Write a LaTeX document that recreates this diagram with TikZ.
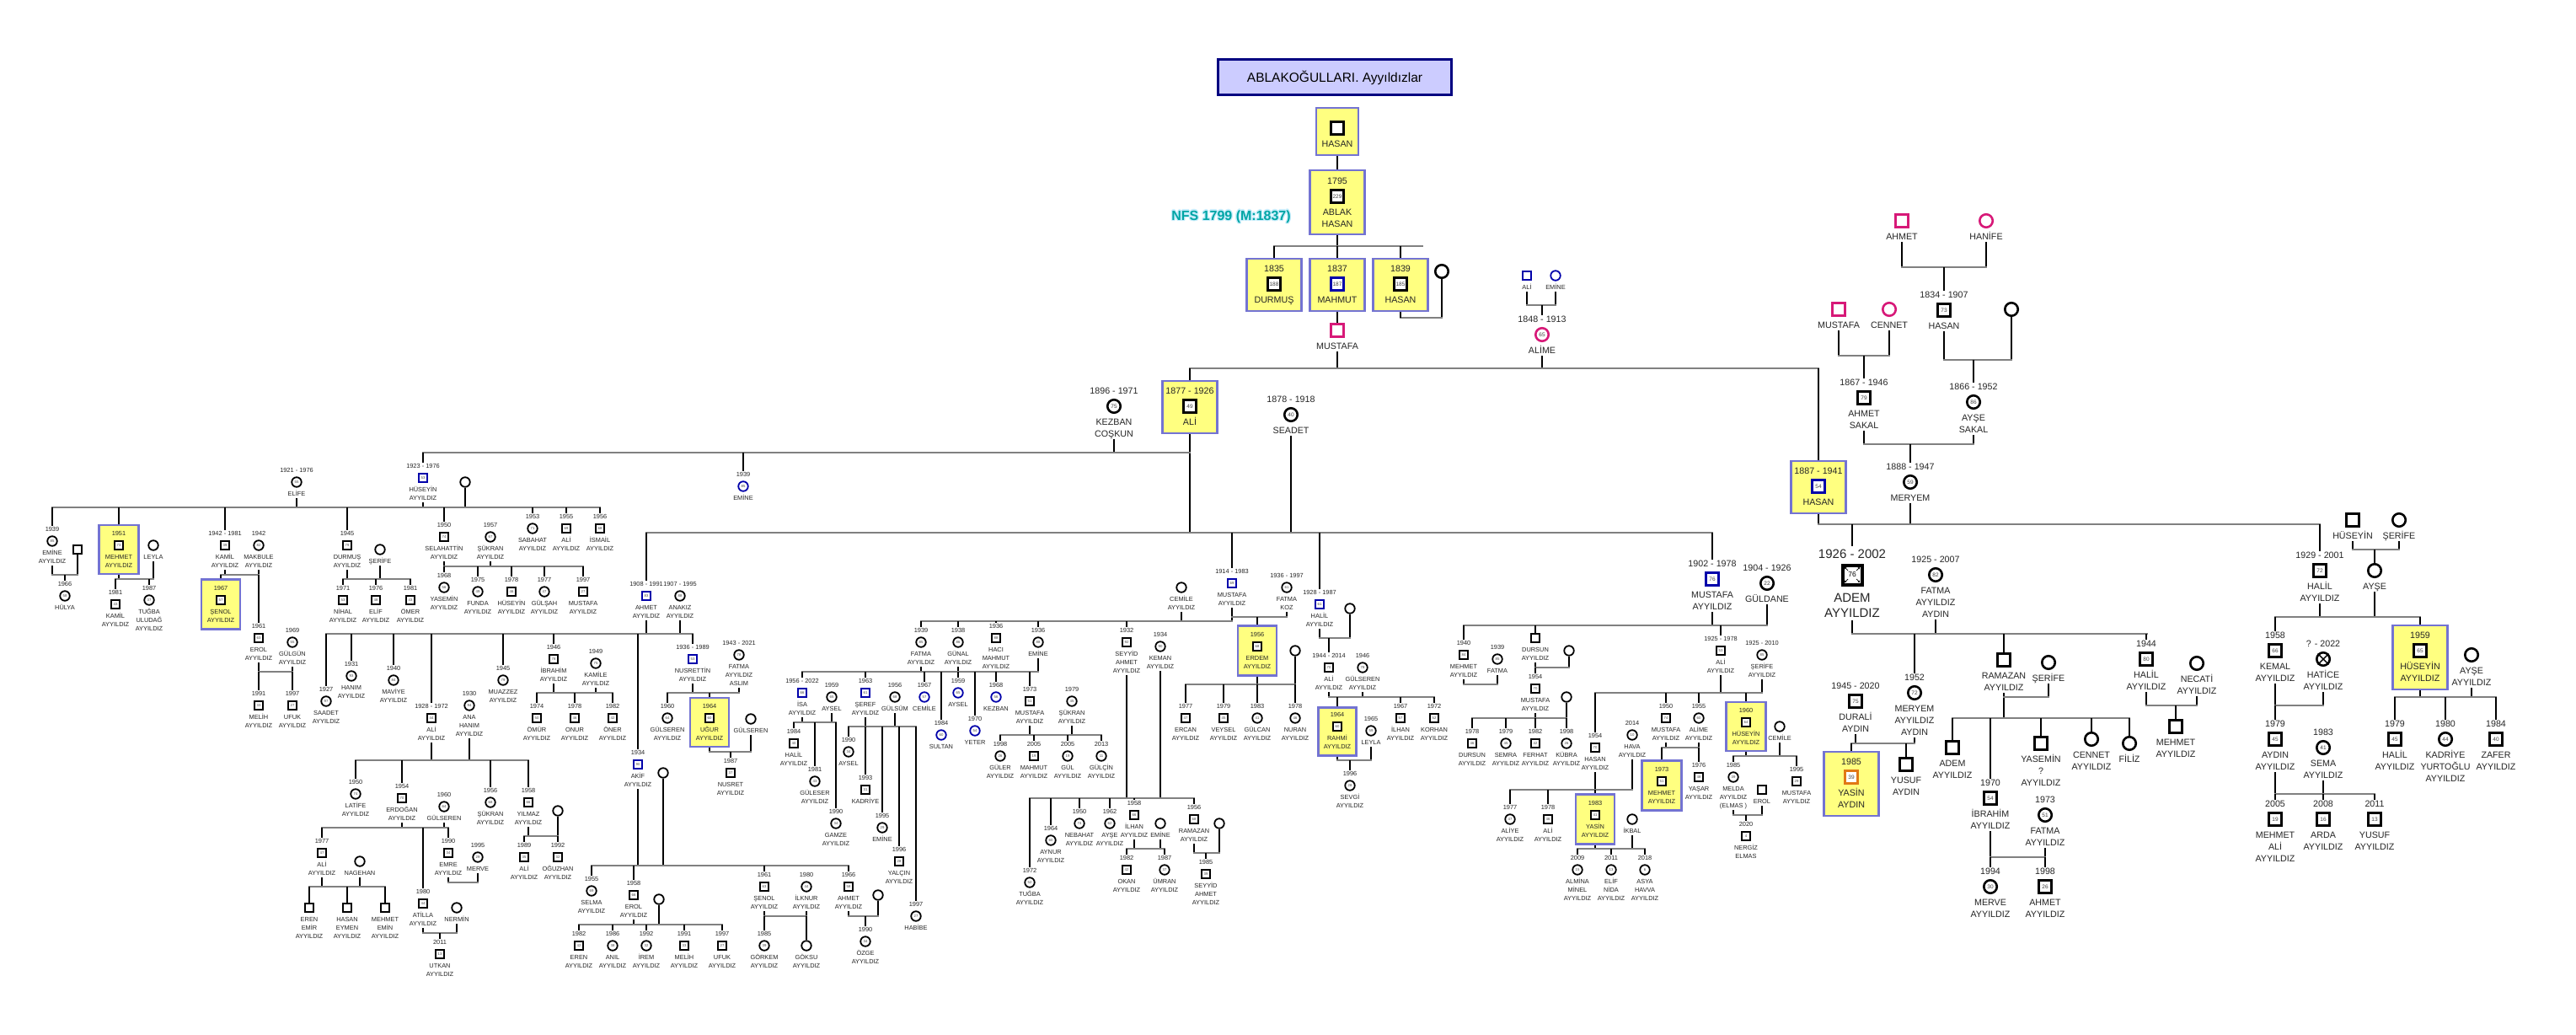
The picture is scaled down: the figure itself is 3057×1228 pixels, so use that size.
\documentclass[tikz,border=0pt]{standalone}
\usepackage{fontspec}
\setmainfont{Liberation Sans}
\usetikzlibrary{arrows.meta}
\definecolor{gbar}{RGB}{128,128,128}
\definecolor{nblue}{RGB}{0,0,170}
\definecolor{pinkc}{RGB}{215,25,120}
\definecolor{boxfill}{RGB}{255,255,128}
\definecolor{boxdraw}{RGB}{115,115,210}
\definecolor{titlefill}{RGB}{204,204,255}
\definecolor{titledraw}{RGB}{0,0,128}
\definecolor{nfsc}{RGB}{0,165,165}
\definecolor{orangec}{RGB}{225,120,20}
\tikzset{
 vl/.style={line width=2.6pt, black},
 hl/.style={line width=2.6pt, gbar, line cap=rect},
 ts/.style={anchor=base, inner sep=0pt, font=\fontsize{7.4}{8}\selectfont, text=black!85},
 tb/.style={anchor=base, inner sep=0pt, font=\fontsize{10.7}{12}\selectfont, text=black!85},
 symS/.style={draw=black, line width=1.8pt, fill=white, inner sep=0pt, font=\fontsize{4.3}{4.3}\selectfont, text=black!75},
 ms/.style={symS, rectangle, minimum size=10.5pt},
 fs/.style={symS, circle, minimum size=11.5pt},
 msb/.style={ms, draw=nblue},
 fsb/.style={fs, draw=nblue},
 symB/.style={draw=black, line width=2.6pt, fill=white, inner sep=0pt, font=\fontsize{6.5}{6.5}\selectfont, text=black!75},
 mb/.style={symB, rectangle, minimum size=14.5pt},
 fb/.style={symB, circle, minimum size=15.5pt},
 mbb/.style={mb, draw=nblue},
 mbp/.style={mb, draw=pinkc},
 fbp/.style={fb, draw=pinkc},
 mbo/.style={mb, draw=orangec},
 ybox/.style={draw=boxdraw, fill=boxfill, line width=2.2pt, inner sep=0pt},
 nfsglow/.style={font=\fontsize{16}{17}\selectfont\bfseries, text=cyan!22, inner sep=0pt},
 nfsmain/.style={font=\fontsize{16}{17}\selectfont\bfseries, text=nfsc, inner sep=0pt},
 bigt/.style={anchor=base, inner sep=0pt, font=\fontsize{15}{16}\selectfont, text=black!85},
}
% person macros: id, x, y, style, age, date, names
\newcommand\prS[7]{%
  \node[#4] (#1) at (#2,#3) {#5};
  \node[ts] at (#2,#3-11.35) {#6};
  \foreach \q [count=\k] in {#7} {\node[ts] at (#2,#3+6.65+10*\k) {\q};}%
}
\newcommand\prB[7]{%
  \node[#4] (#1) at (#2,#3) {#5};
  \node[tb] at (#2,#3-14.2) {#6};
  \foreach \q [count=\k] in {#7} {\node[tb] at (#2,#3+8.8+14*\k) {\q};}%
}
\newcommand\bx[5]{\node[ybox, minimum width=#4pt, minimum height=#5pt] (#1) at (#2,#3) {};}
\newcommand\cuS[2]{\draw[vl] (#1 |- 0,#2) -- ([yshift=18pt]#1.center);}
\newcommand\cuB[2]{\draw[vl] (#1 |- 0,#2) -- ([yshift=23pt]#1.center);}
\newcommand\cuY[2]{\draw[vl] (#1 |- 0,#2) -- (#1.north);}
\newcommand\cdS[3]{\draw[vl] (#1.center) ++(0,{9+10*#2}) -- (#1 |- 0,#3);}
\newcommand\cdB[3]{\draw[vl] (#1.center) ++(0,{11+14*#2}) -- (#1 |- 0,#3);}
\newcommand\cdY[2]{\draw[vl] (#1.south) -- (#1 |- 0,#2);}
\newcommand\HL[3]{\draw[hl] (#2,#1) -- (#3,#1);}
\begin{document}
\begin{tikzpicture}[x=1pt,y=-1pt]
\fill[white] (0,0) rectangle (3057,1228);
\useasboundingbox (0,0) rectangle (3057,1228);
% ---------- title ----------
\node[draw=titledraw, fill=titlefill, line width=3pt, minimum width=277pt, minimum height=42pt, font=\fontsize{15.5}{16}\selectfont] (title) at (1584,92) {ABLAKOĞULLARI. Ayyıldızlar};
\foreach \dx/\dy in {-1.3/0,1.3/0,0/-1.3,0/1.3,-1/-1,1/1,-1/1,1/-1} {\node[nfsglow] at (1461+\dx,257+\dy) {NFS 1799 (M:1837)};}
\node[nfsmain] (nfs) at (1461,257) {NFS 1799 (M:1837)};
% ---------- boxes ----------
\bx{bxHasan0}{1587}{156}{50}{56}
\bx{bxAblak}{1587}{240}{65}{76}
\bx{bxDurmus}{1512}{338}{65}{62}
\bx{bxMahmut}{1587}{338}{65}{62}
\bx{bxHasan1}{1662}{338}{65}{62}
\bx{bxAli0}{1412}{483}{65}{62}
\bx{bxHasanH}{2158}{578}{65}{62}
\bx{bxYasinA}{2197}{930}{65}{76}
\bx{bxHuseyin59}{2872}{780}{65}{76}
\bx{bxMehmet51}{141}{652}{47}{58}
\bx{bxSenol67}{262}{717}{46}{59}
\bx{bxUgur}{842}{857}{46}{58}
\bx{bxErdem}{1492}{772}{46}{59}
\bx{bxRahmi}{1587}{868}{45}{57}
\bx{bxYasin83}{1893}{972}{46}{59}
\bx{bxMehmet73}{1972}{932}{47}{59}
\bx{bxHuseyin60}{2072}{862}{47}{58}
% ---------- top generations ----------
\prB{hasan0}{1587}{152}{mb}{}{}{HASAN}
\prB{ablak}{1587}{233}{mb}{229}{1795}{ABLAK,HASAN}
\prB{durmus}{1512}{337}{mb}{188}{1835}{DURMUŞ}
\prB{mahmut}{1587}{337}{mbb}{187}{1837}{MAHMUT}
\prB{hasan1}{1662}{337}{mb}{185}{1839}{HASAN}
\node[fb] (wifeA) at (1711,322) {};
\prB{mustafaT}{1587}{392}{mbp}{}{}{MUSTAFA}
\prS{aliT}{1812}{327}{msb}{}{}{ALİ}
\prS{emineT}{1846}{327}{fsb}{}{}{EMİNE}
\prB{alime}{1830}{397}{fbp}{65}{1848 - 1913}{ALİME}
\prB{ali0}{1412}{482}{mb}{49}{1877 - 1926}{ALİ}
\prB{kezban}{1322}{482}{fb}{75}{1896 - 1971}{KEZBAN,COŞKUN}
\prB{seadet}{1532}{492}{fb}{40}{1878 - 1918}{SEADET}
% ---------- Hüseyin 1923 ----------
\prS{elife}{352}{572}{fs}{55}{1921 - 1976}{ELİFE}
\prS{huseyin23}{502}{567}{msb}{53}{1923 - 1976}{HÜSEYİN,AYYILDIZ}
\node[fs] (huseyinW) at (552,572) {};
\prS{emine39}{62}{642}{fs}{85}{1939}{EMİNE,AYYILDIZ}
\node[ms] (emineH) at (92,652) {};
\prS{hulya}{77}{707}{fs}{58}{1966}{HÜLYA}
\prS{mehmet51}{141}{647}{ms}{73}{1951}{MEHMET,AYYILDIZ}
\prS{leyla51}{182}{647}{fs}{}{}{LEYLA}
\prS{kamil81}{137}{717}{ms}{43}{1981}{KAMİL,AYYILDIZ}
\prS{tugbaU}{177}{712}{fs}{37}{1987}{TUĞBA,ULUDAĞ,AYYILDIZ}
\prS{kamil42}{267}{647}{ms}{39}{1942 - 1981}{KAMİL,AYYILDIZ}
\prS{makbule}{307}{647}{fs}{82}{1942}{MAKBULE,AYYILDIZ}
\prS{senol67}{262}{712}{ms}{57}{1967}{ŞENOL,AYYILDIZ}
\prS{erol61}{307}{757}{ms}{63}{1961}{EROL,AYYILDIZ}
\prS{gulgun}{347}{762}{fs}{55}{1969}{GÜLGÜN,AYYILDIZ}
\prS{melihB}{307}{837}{ms}{33}{1991}{MELİH,AYYILDIZ}
\prS{ufukB}{347}{837}{ms}{27}{1997}{UFUK,AYYILDIZ}
\prS{durmus45}{412}{647}{ms}{79}{1945}{DURMUŞ,AYYILDIZ}
\prS{serifeD}{451}{652}{fs}{}{}{ŞERİFE}
\prS{nihal}{407}{712}{ms}{53}{1971}{NİHAL,AYYILDIZ}
\prS{elif76}{446}{712}{ms}{48}{1976}{ELİF,AYYILDIZ}
\prS{omer}{487}{712}{ms}{43}{1981}{ÖMER,AYYILDIZ}
\prS{selahattin}{527}{637}{ms}{74}{1950}{SELAHATTİN,AYYILDIZ}
\prS{sukran57}{582}{637}{fs}{67}{1957}{ŞÜKRAN,AYYILDIZ}
\prS{yasemin68}{527}{697}{fs}{56}{1968}{YASEMİN,AYYILDIZ}
\prS{funda}{567}{702}{fs}{49}{1975}{FUNDA,AYYILDIZ}
\prS{huseyin78}{607}{702}{ms}{46}{1978}{HÜSEYİN,AYYILDIZ}
\prS{gulsah}{646}{702}{fs}{47}{1977}{GÜLŞAH,AYYILDIZ}
\prS{mustafa97}{692}{702}{ms}{27}{1997}{MUSTAFA,AYYILDIZ}
\prS{sabahat}{632}{627}{fs}{71}{1953}{SABAHAT,AYYILDIZ}
\prS{ali55}{672}{627}{ms}{69}{1955}{ALİ,AYYILDIZ}
\prS{ismail}{712}{627}{ms}{68}{1956}{İSMAİL,AYYILDIZ}
\prS{emine39b}{882}{577}{fsb}{85}{1939}{EMİNE}
% ---------- Ahmet 1908 ----------
\prS{ahmet08}{767}{707}{msb}{83}{1908 - 1991}{AHMET,AYYILDIZ}
\prS{anakiz}{807}{707}{fs}{88}{1907 - 1995}{ANAKIZ,AYYILDIZ}
\prS{saadet27}{387}{832}{fs}{97}{1927}{SAADET,AYYILDIZ}
\prS{hanim}{417}{802}{fs}{93}{1931}{HANIM,AYYILDIZ}
\prS{maviye}{467}{807}{fs}{84}{1940}{MAVİYE,AYYILDIZ}
\prS{ali28}{512}{852}{ms}{44}{1928 - 1972}{ALİ,AYYILDIZ}
\prS{anahanim}{557}{837}{fs}{94}{1930}{ANA,HANIM,AYYILDIZ}
\prS{muazzez}{597}{807}{fs}{79}{1945}{MUAZZEZ,AYYILDIZ}
\prS{ibrahim46}{657}{782}{ms}{78}{1946}{İBRAHİM,AYYILDIZ}
\prS{kamile}{707}{787}{fs}{75}{1949}{KAMİLE,AYYILDIZ}
\prS{omur}{637}{852}{ms}{50}{1974}{ÖMÜR,AYYILDIZ}
\prS{onur}{682}{852}{ms}{46}{1978}{ONUR,AYYILDIZ}
\prS{oner}{727}{852}{ms}{42}{1982}{ÖNER,AYYILDIZ}
\prS{latife}{422}{942}{fs}{74}{1950}{LATİFE,AYYILDIZ}
\prS{erdogan}{477}{947}{ms}{70}{1954}{ERDOĞAN,AYYILDIZ}
\prS{gulserenE}{527}{957}{fs}{64}{1960}{GÜLSEREN}
\prS{sukran56}{582}{952}{fs}{68}{1956}{ŞÜKRAN,AYYILDIZ}
\prS{yilmaz}{627}{952}{ms}{66}{1958}{YILMAZ,AYYILDIZ}
\prS{ali77}{382}{1012}{ms}{47}{1977}{ALİ,AYYILDIZ}
\prS{nagehan}{427}{1022}{fs}{}{}{NAGEHAN}
\prS{erenE}{367}{1077}{ms}{}{}{EREN,EMİR,AYYILDIZ}
\prS{hasanE}{412}{1077}{ms}{}{}{HASAN,EYMEN,AYYILDIZ}
\prS{mehmetE}{457}{1077}{ms}{}{}{MEHMET,EMİN,AYYILDIZ}
\prS{atilla}{502}{1072}{ms}{44}{1980}{ATİLLA,AYYILDIZ}
\prS{nermin}{542}{1077}{fs}{}{}{NERMİN}
\prS{utkan}{522}{1132}{ms}{13}{2011}{UTKAN,AYYILDIZ}
\prS{emre}{532}{1012}{ms}{34}{1990}{EMRE,AYYILDIZ}
\prS{merve95}{567}{1017}{fs}{29}{1995}{MERVE}
\node[fs] (yilmazW) at (662,962) {};
\prS{ali89}{622}{1017}{ms}{35}{1989}{ALİ,AYYILDIZ}
\prS{oguzhan}{662}{1017}{ms}{32}{1992}{OĞUZHAN,AYYILDIZ}
\prS{nusrettin}{822}{782}{msb}{53}{1936 - 1989}{NUSRETTİN,AYYILDIZ}
\prS{fatmaAs}{877}{777}{fs}{78}{1943 - 2021}{FATMA,AYYILDIZ,ASLIM}
\prS{gulseren60}{792}{852}{fs}{64}{1960}{GÜLSEREN,AYYILDIZ}
\prS{ugur}{842}{852}{ms}{60}{1964}{UĞUR,AYYILDIZ}
\prS{gulserenU}{891}{853}{fs}{}{}{GÜLSEREN}
\prS{nusret}{867}{917}{ms}{37}{1987}{NUSRET,AYYILDIZ}
\prS{akif}{757}{907}{msb}{90}{1934}{AKİF,AYYILDIZ}
\node[fs] (akifW) at (787,917) {};
\prS{selma}{702}{1057}{fs}{69}{1955}{SELMA,AYYILDIZ}
\prS{erol58}{752}{1062}{ms}{66}{1958}{EROL,AYYILDIZ}
\node[fs] (erolW) at (782,1067) {};
\prS{eren82}{687}{1122}{ms}{42}{1982}{EREN,AYYILDIZ}
\prS{anil}{727}{1122}{fs}{38}{1986}{ANIL,AYYILDIZ}
\prS{irem}{767}{1122}{fs}{32}{1992}{İREM,AYYILDIZ}
\prS{melih91}{812}{1122}{ms}{33}{1991}{MELİH,AYYILDIZ}
\prS{ufuk97}{857}{1122}{ms}{27}{1997}{UFUK,AYYILDIZ}
\prS{senol61}{907}{1052}{ms}{63}{1961}{ŞENOL,AYYILDIZ}
\prS{ilknur}{957}{1052}{fs}{44}{1980}{İLKNUR,AYYILDIZ}
\prS{gorkem}{907}{1122}{fs}{39}{1985}{GÖRKEM,AYYILDIZ}
\prS{goksu}{957}{1122}{fs}{}{}{GÖKSU,AYYILDIZ}
\prS{ahmet66}{1007}{1052}{ms}{58}{1966}{AHMET,AYYILDIZ}
\node[fs] (ahmetW) at (1042,1062) {};
\prS{ozge}{1027}{1117}{fs}{34}{1990}{ÖZGE,AYYILDIZ}
% ---------- Mustafa 1914 ----------
\prS{mustafa14}{1462}{692}{msb}{69}{1914 - 1983}{MUSTAFA,AYYILDIZ}
\prS{cemileA}{1402}{697}{fs}{}{}{CEMİLE,AYYILDIZ}
\prS{fatmaK}{1527}{697}{fs}{61}{1936 - 1997}{FATMA,KOZ}
\prS{erdem}{1492}{767}{ms}{68}{1956}{ERDEM,AYYILDIZ}
\node[fs] (erdemW) at (1537,772) {};
\prS{ercan}{1407}{852}{ms}{47}{1977}{ERCAN,AYYILDIZ}
\prS{veysel}{1452}{852}{ms}{45}{1979}{VEYSEL,AYYILDIZ}
\prS{gulcan}{1492}{852}{fs}{41}{1983}{GÜLCAN,AYYILDIZ}
\prS{nuran}{1537}{852}{fs}{46}{1978}{NURAN,AYYILDIZ}
\prS{halil28}{1566}{717}{msb}{61}{1928 - 1987}{HALİL,AYYILDIZ}
\node[fs] (halilW) at (1602,722) {};
\prS{ali44}{1577}{792}{ms}{70}{1944 - 2014}{ALİ,AYYILDIZ}
\prS{gulseren46}{1617}{792}{fs}{78}{1946}{GÜLSEREN,AYYILDIZ}
\prS{rahmi}{1587}{862}{ms}{60}{1964}{RAHMİ,AYYILDIZ}
\prS{leyla}{1627}{867}{fs}{59}{1965}{LEYLA}
\prS{sevgi}{1602}{932}{fs}{28}{1996}{SEVGİ,AYYILDIZ}
\prS{ilhan67}{1662}{852}{ms}{57}{1967}{İLHAN,AYYILDIZ}
\prS{korhan}{1702}{852}{ms}{52}{1972}{KORHAN,AYYILDIZ}
\prS{seyyid}{1337}{762}{ms}{92}{1932}{SEYYİD,AHMET,AYYILDIZ}
\prS{keman}{1377}{767}{fs}{90}{1934}{KEMAN,AYYILDIZ}
\prS{tugba72}{1222}{1047}{fs}{52}{1972}{TUĞBA,AYYILDIZ}
\prS{aynur}{1247}{997}{fs}{60}{1964}{AYNUR,AYYILDIZ}
\prS{nebahat}{1281}{977}{fs}{74}{1950}{NEBAHAT,AYYILDIZ}
\prS{ayse62}{1317}{977}{fs}{62}{1962}{AYŞE,AYYILDIZ}
\prS{ilhan58}{1346}{967}{ms}{66}{1958}{İLHAN,AYYILDIZ}
\prS{emineI}{1377}{977}{fs}{}{}{EMİNE}
\prS{okan}{1337}{1032}{ms}{42}{1982}{OKAN,AYYILDIZ}
\prS{umran}{1382}{1032}{fs}{37}{1987}{ÜMRAN,AYYILDIZ}
\prS{ramazan56}{1417}{972}{ms}{68}{1956}{RAMAZAN,AYYILDIZ}
\node[fs] (ramazanW) at (1447,977) {};
\prS{seyyid85}{1431}{1037}{ms}{39}{1985}{SEYYİD,AHMET,AYYILDIZ}
\prS{fatma39A}{1093}{762}{fs}{85}{1939}{FATMA,AYYILDIZ}
\prS{gunal}{1137}{762}{fs}{86}{1938}{GÜNAL,AYYILDIZ}
\prS{haci}{1182}{757}{ms}{88}{1936}{HACI,MAHMUT,AYYILDIZ}
\prS{emine36}{1232}{762}{fs}{88}{1936}{EMİNE}
\prS{isa}{952}{822}{msb}{66}{1956 - 2022}{İSA,AYYILDIZ}
\prS{ayselI}{987}{827}{fs}{65}{1959}{AYSEL}
\prS{halil84}{942}{882}{ms}{40}{1984}{HALİL,AYYILDIZ}
\prS{guleser}{967}{927}{fs}{43}{1981}{GÜLESER,AYYILDIZ}
\prS{gamze}{992}{977}{fs}{34}{1990}{GAMZE,AYYILDIZ}
\prS{seref}{1027}{822}{msb}{61}{1963}{ŞEREF,AYYILDIZ}
\prS{gulsum}{1062}{827}{fs}{68}{1956}{GÜLSÜM}
\prS{aysel90}{1007}{892}{fs}{34}{1990}{AYSEL}
\prS{kadriye93}{1027}{937}{ms}{31}{1993}{KADRİYE}
\prS{emine95}{1047}{982}{fs}{29}{1995}{EMİNE}
\prS{yalcin}{1067}{1022}{ms}{28}{1996}{YALÇIN,AYYILDIZ}
\prS{habibe}{1087}{1087}{fs}{27}{1997}{HABİBE}
\prS{cemile67}{1097}{827}{fsb}{57}{1967}{CEMİLE}
\prS{sultan}{1117}{872}{fsb}{60}{1984}{SULTAN}
\prS{aysel59}{1137}{822}{fsb}{65}{1959}{AYSEL}
\prS{yeter}{1157}{867}{fsb}{54}{1970}{YETER}
\prS{kezban68}{1182}{827}{fsb}{56}{1968}{KEZBAN}
\prS{mustafa73}{1222}{832}{ms}{51}{1973}{MUSTAFA,AYYILDIZ}
\prS{sukran79}{1272}{832}{fs}{45}{1979}{ŞÜKRAN,AYYILDIZ}
\prS{guler}{1187}{897}{fs}{26}{1998}{GÜLER,AYYILDIZ}
\prS{mahmut05}{1227}{897}{ms}{19}{2005}{MAHMUT,AYYILDIZ}
\prS{gul}{1267}{897}{fs}{19}{2005}{GÜL,AYYILDIZ}
\prS{gulcin}{1307}{897}{fs}{11}{2013}{GÜLÇİN,AYYILDIZ}
% ---------- Mustafa 1902 ----------
\prB{mustafa02}{2032}{687}{mbb}{76}{1902 - 1978}{MUSTAFA,AYYILDIZ}
\prB{guldane}{2097}{692}{fb}{22}{1904 - 1926}{GÜLDANE}
\prS{mehmet40}{1737}{777}{ms}{84}{1940}{MEHMET,AYYILDIZ}
\prS{fatma39}{1777}{782}{fs}{85}{1939}{FATMA}
\prS{dursun}{1822}{757}{ms}{}{}{DURSUN,AYYILDIZ}
\node[fs] (dursunW) at (1862,772) {};
\prS{mustafa54}{1822}{817}{ms}{70}{1954}{MUSTAFA,AYYILDIZ}
\node[fs] (mustafa54W) at (1859,827) {};
\prS{dursun78}{1747}{882}{ms}{46}{1978}{DURSUN,AYYILDIZ}
\prS{semra}{1787}{882}{fs}{45}{1979}{SEMRA,AYYILDIZ}
\prS{ferhat}{1822}{882}{ms}{42}{1982}{FERHAT,AYYILDIZ}
\prS{kubra}{1859}{882}{fs}{26}{1998}{KÜBRA,AYYILDIZ}
\prS{aliye}{1792}{972}{fs}{47}{1977}{ALİYE,AYYILDIZ}
\prS{ali79}{1837}{972}{ms}{46}{1978}{ALİ,AYYILDIZ}
\prS{ali25}{2042}{772}{ms}{53}{1925 - 1978}{ALİ,AYYILDIZ}
\prS{serife25}{2091}{777}{fs}{85}{1925 - 2010}{ŞERİFE,AYYILDIZ}
\prS{hasan54}{1893}{887}{ms}{70}{1954}{HASAN,AYYILDIZ}
\prS{hava}{1937}{872}{fs}{10}{2014}{HAVA,AYYILDIZ}
\prS{yasin83}{1893}{967}{ms}{41}{1983}{YASİN,AYYILDIZ}
\prS{ikbal}{1937}{972}{fs}{}{}{İKBAL}
\prS{almina}{1872}{1032}{fs}{15}{2009}{ALMİNA,MİNEL,AYYILDIZ}
\prS{elifN}{1912}{1032}{fs}{13}{2011}{ELİF,NİDA,AYYILDIZ}
\prS{asya}{1952}{1032}{fs}{6}{2018}{ASYA,HAVVA,AYYILDIZ}
\prS{mustafa50}{1977}{852}{ms}{74}{1950}{MUSTAFA,AYYILDIZ}
\prS{alime55}{2016}{852}{fs}{60}{1955}{ALİME,AYYILDIZ}
\prS{mehmet73}{1972}{927}{ms}{51}{1973}{MEHMET,AYYILDIZ}
\prS{yasar}{2016}{922}{ms}{48}{1976}{YAŞAR,AYYILDIZ}
\prS{huseyin60}{2072}{857}{ms}{64}{1960}{HÜSEYİN,AYYILDIZ}
\prS{cemileH}{2112}{862}{fs}{}{}{CEMİLE}
\prS{melda}{2057}{922}{fs}{39}{1985}{MELDA,AYYILDIZ,(ELMAS )}
\prS{mustafa95}{2132}{927}{ms}{29}{1995}{MUSTAFA,AYYILDIZ}
\prS{erolM}{2091}{937}{ms}{}{}{EROL}
\prS{nergiz}{2072}{992}{ms}{4}{2020}{NERGİZ,ELMAS}
% ---------- right side ----------
\prB{ahmetP}{2257}{262}{mbp}{}{}{AHMET}
\prB{hanife}{2357}{262}{fbp}{}{}{HANİFE}
\prB{hasanB}{2307}{368}{mb}{73}{1834 - 1907}{HASAN}
\node[fb] (wifeB) at (2387,367) {};
\prB{mustafaP}{2182}{367}{mbp}{}{}{MUSTAFA}
\prB{cennet}{2242}{367}{fbp}{}{}{CENNET}
\prB{ahmetS}{2212}{472}{mb}{79}{1867 - 1946}{AHMET,SAKAL}
\prB{ayseS}{2342}{477}{fb}{86}{1866 - 1952}{AYŞE,SAKAL}
\prB{meryemH}{2267}{572}{fb}{59}{1888 - 1947}{MERYEM}
\prB{hasanH}{2158}{577}{mbb}{54}{1887 - 1941}{HASAN}
\node[draw=black, line width=4pt, fill=white, minimum size=23pt, inner sep=0pt, font=\fontsize{8.5}{9}\selectfont] (adem) at (2198,682) {76};
\foreach \sx/\sy in {1/1,1/-1,-1/1,-1/-1} {\draw[line width=0.7pt, -{Stealth[length=2.6pt,width=2.6pt]}] (2198+5*\sx,682+5*\sy) -- (2198+9.2*\sx,682+9.2*\sy);}
\node[bigt] at (2198,662.4) {1926 - 2002};
\node[bigt] at (2198,714.3) {ADEM};
\node[bigt] at (2198,732.3) {AYYILDIZ};
\prB{fatmaA}{2297}{682}{fb}{82}{1925 - 2007}{FATMA,AYYILDIZ,AYDIN}
\prB{meryemA}{2272}{822}{fb}{72}{1952}{MERYEM,AYYILDIZ,AYDIN}
\prB{durali}{2202}{832}{mb}{75}{1945 - 2020}{DURALİ,AYDIN}
\prB{yasinA}{2197}{922}{mbo}{39}{1985}{YASİN,AYDIN}
\prB{yusufA}{2262}{907}{mb}{}{}{YUSUF,AYDIN}
\prB{ramazanA}{2378}{783}{mb}{}{}{RAMAZAN,AYYILDIZ}
\prB{serifeA}{2431}{786}{fb}{}{}{ŞERİFE}
\prB{ademR}{2317}{887}{mb}{}{}{ADEM,AYYILDIZ}
\prB{ibrahimR}{2362}{947}{mb}{54}{1970}{İBRAHİM,AYYILDIZ}
\prB{yasemin}{2422}{882}{mb}{}{}{YASEMİN,?,AYYILDIZ}
\prB{cennetR}{2482}{877}{fb}{}{}{CENNET,AYYILDIZ}
\prB{filiz}{2527}{882}{fb}{}{}{FİLİZ}
\prB{fatmaR}{2427}{967}{fb}{51}{1973}{FATMA,AYYILDIZ}
\prB{merveR}{2362}{1052}{fb}{30}{1994}{MERVE,AYYILDIZ}
\prB{ahmetR}{2427}{1052}{mb}{26}{1998}{AHMET,AYYILDIZ}
\prB{halil44}{2547}{782}{mb}{80}{1944}{HALİL,AYYILDIZ}
\prB{necati}{2607}{787}{fb}{}{}{NECATİ,AYYILDIZ}
\prB{mehmetN}{2582}{862}{mb}{}{}{MEHMET,AYYILDIZ}
\prB{halil29}{2753}{677}{mb}{72}{1929 - 2001}{HALİL,AYYILDIZ}
\prB{huseyinS}{2792}{617}{mb}{}{}{HÜSEYİN}
\prB{serifeS}{2847}{617}{fb}{}{}{ŞERİFE}
\prB{ayseH}{2818}{677}{fb}{}{}{AYŞE}
\prB{kemal}{2700}{772}{mb}{66}{1958}{KEMAL,AYYILDIZ}
\prB{hatice}{2757}{782}{fb}{}{? - 2022}{HATİCE,AYYILDIZ}
\draw[line width=1.4pt] (hatice.45) -- (hatice.225) (hatice.135) -- (hatice.315);
\prB{huseyin59}{2872}{772}{mb}{65}{1959}{HÜSEYİN,AYYILDIZ}
\prB{ayseA}{2933}{777}{fb}{}{}{AYŞE,AYYILDIZ}
\prB{halil79}{2842}{877}{mb}{45}{1979}{HALİL,AYYILDIZ}
\prB{kadriye}{2902}{877}{fb}{44}{1980}{KADRİYE,YURTOĞLU,AYYILDIZ}
\prB{zafer}{2962}{877}{mb}{40}{1984}{ZAFER,AYYILDIZ}
\prB{aydin79}{2700}{877}{mb}{45}{1979}{AYDIN,AYYILDIZ}
\prB{sema}{2757}{887}{fb}{41}{1983}{SEMA,AYYILDIZ}
\prB{mehmetAli}{2700}{972}{mb}{19}{2005}{MEHMET,ALİ,AYYILDIZ}
\prB{arda}{2757}{972}{mb}{16}{2008}{ARDA,AYYILDIZ}
\prB{yusufY}{2818}{972}{mb}{13}{2011}{YUSUF,AYYILDIZ}
% ================= connectors =================
\draw[vl] (bxHasan0.south) -- (bxAblak.north);
\cdY{bxAblak}{292} \HL{292}{1512}{1688}
\cuY{bxDurmus}{292} \cuY{bxMahmut}{292} \cuY{bxHasan1}{292}
\cdY{wifeA}{377} \HL{377}{1662}{1711} \cdY{bxHasan1}{377}
\draw[vl] (bxMahmut.south) -- (mustafaT.north);
\cdB{mustafaT}{1}{437}
\cdS{aliT}{1}{362} \cdS{emineT}{1}{362} \HL{362}{1812}{1846} \cuB{alime}{362}
\cdB{alime}{1}{437}
\HL{437}{1412}{2158}
\cuY{bxAli0}{437} \cdY{bxAli0}{632}
\cdB{kezban}{2}{537} \HL{537}{502}{1412}
\cdB{seadet}{1}{632}
\HL{632}{767}{2032}
% Hüseyin 1923
\cuS{huseyin23}{537} \cuS{emine39b}{537}
\cdS{elife}{1}{602} \cdS{huseyin23}{2}{602} \cdY{huseyinW}{602}
\HL{602}{62}{712}
\cuS{emine39}{602} \cuY{bxMehmet51}{602} \cuS{kamil42}{602} \cuS{durmus45}{602} \cuS{selahattin}{602} \cuS{sabahat}{602} \cuS{ali55}{602} \cuS{ismail}{602}
\cdS{emine39}{2}{682} \cdY{emineH}{682} \HL{682}{62}{92} \cuS{hulya}{682}
\cdY{bxMehmet51}{687} \cdS{leyla51}{1}{687} \HL{687}{137}{182} \cuS{kamil81}{687} \cuS{tugbaU}{687}
\cdS{kamil42}{2}{682} \cdS{makbule}{2}{682} \HL{682}{262}{307} \cuY{bxSenol67}{682} \cuS{erol61}{682}
\cdS{erol61}{2}{797} \cdS{gulgun}{2}{797} \HL{797}{307}{347} \cuS{melihB}{797} \cuS{ufukB}{797}
\cdS{durmus45}{2}{687} \cdS{serifeD}{1}{687} \HL{687}{407}{487} \cuS{nihal}{687} \cuS{elif76}{687} \cuS{omer}{687}
\cdS{selahattin}{2}{672} \cdS{sukran57}{2}{672} \HL{672}{527}{692} \cuS{yasemin68}{672} \cuS{funda}{672} \cuS{huseyin78}{672} \cuS{gulsah}{672} \cuS{mustafa97}{672}
% Ahmet 1908
\cuS{ahmet08}{632}
\cdS{ahmet08}{2}{752} \cdS{anakiz}{2}{752} \HL{752}{387}{822}
\cuS{saadet27}{752} \cuS{hanim}{752} \cuS{maviye}{752} \cuS{ali28}{752} \cuS{muazzez}{752} \cuS{ibrahim46}{752} \cuS{akif}{752} \cuS{nusrettin}{752}
\cdS{ibrahim46}{2}{822} \cdS{kamile}{2}{822} \HL{822}{637}{727} \cuS{omur}{822} \cuS{onur}{822} \cuS{oner}{822}
\cdS{ali28}{2}{902} \cdS{anahanim}{3}{902} \HL{902}{422}{627} \cuS{latife}{902} \cuS{erdogan}{902} \cuS{sukran56}{902} \cuS{yilmaz}{902}
\cdS{erdogan}{2}{982} \cdS{gulserenE}{1}{982} \HL{982}{382}{532} \cuS{ali77}{982} \cuS{atilla}{982} \cuS{emre}{982}
\cdS{ali77}{2}{1052} \cdS{nagehan}{1}{1052} \HL{1052}{367}{457} \cuY{erenE}{1052} \cuY{hasanE}{1052} \cuY{mehmetE}{1052}
\cdS{atilla}{2}{1107} \cdS{nermin}{1}{1107} \HL{1107}{502}{542} \cuS{utkan}{1107}
\cdS{emre}{2}{1047} \cdS{merve95}{1}{1047} \HL{1047}{532}{567}
\cdS{yilmaz}{2}{992} \cdY{yilmazW}{992} \HL{992}{622}{662} \cuS{ali89}{992} \cuS{oguzhan}{992}
\cdS{nusrettin}{2}{822} \cdS{fatmaAs}{3}{822} \HL{822}{792}{877} \cuS{gulseren60}{822} \cuY{bxUgur}{822}
\cdY{bxUgur}{892} \cdS{gulserenU}{1}{892} \HL{892}{842}{891} \cuS{nusret}{892}
\cdS{akif}{2}{1027} \cdY{akifW}{1027} \HL{1027}{702}{1007} \cuS{selma}{1027} \cuS{erol58}{1027} \cuS{senol61}{1027} \cuS{ahmet66}{1027}
\cdS{erol58}{2}{1097} \cdY{erolW}{1097} \HL{1097}{687}{857} \cuS{eren82}{1097} \cuS{anil}{1097} \cuS{irem}{1097} \cuS{melih91}{1097} \cuS{ufuk97}{1097}
\cdS{senol61}{2}{1087} \cdS{ilknur}{2}{1087} \HL{1087}{907}{957} \cuS{gorkem}{1087} \cuY{goksu}{1087}
\cdS{ahmet66}{2}{1087} \cdY{ahmetW}{1087} \HL{1087}{1007}{1042} \cuS{ozge}{1087}
% Mustafa 1914
\cuS{mustafa14}{632}
\cdS{mustafa14}{2}{737} \cdS{cemileA}{2}{737} \HL{737}{1093}{1462}
\cuS{fatma39A}{737} \cuS{gunal}{737} \cuS{haci}{737} \cuS{emine36}{737} \cuS{seyyid}{737}
\cdS{fatmaK}{2}{732} \HL{732}{1462}{1527} \cuY{bxErdem}{732}
\cdY{bxErdem}{812} \cdY{erdemW}{812} \HL{812}{1407}{1537} \cuS{ercan}{812} \cuS{veysel}{812} \cuS{gulcan}{812} \cuS{nuran}{812}
\cdS{fatma39A}{2}{797} \cdS{gunal}{2}{797} \cdS{haci}{3}{797} \cdS{emine36}{1}{797} \HL{797}{952}{1232}
\cuS{isa}{797} \cuS{seref}{797} \cuS{cemile67}{797} \cuS{sultan}{797} \cuS{aysel59}{797} \cuS{yeter}{797} \cuS{kezban68}{797} \cuS{mustafa73}{797}
\cdS{isa}{2}{857} \cdS{ayselI}{1}{857} \HL{857}{942}{992} \cuS{halil84}{857} \cuS{guleser}{857} \cuS{gamze}{857}
\cdS{seref}{2}{862} \cdS{gulsum}{1}{862} \HL{862}{1007}{1087} \cuS{aysel90}{862} \cuS{kadriye93}{862} \cuS{emine95}{862} \cuS{yalcin}{862} \cuS{habibe}{862}
\cdS{mustafa73}{2}{872} \cdS{sukran79}{2}{872} \HL{872}{1187}{1307} \cuS{guler}{872} \cuS{mahmut05}{872} \cuS{gul}{872} \cuS{gulcin}{872}
\cdS{seyyid}{3}{947} \cdS{keman}{2}{947} \HL{947}{1222}{1417}
\cuS{tugba72}{947} \cuS{aynur}{947} \cuS{nebahat}{947} \cuS{ayse62}{947} \cuS{ilhan58}{947} \cuS{ramazan56}{947}
\cdS{ilhan58}{2}{1007} \cdS{emineI}{1}{1007} \HL{1007}{1337}{1382} \cuS{okan}{1007} \cuS{umran}{1007}
\cdS{ramazan56}{2}{1012} \cdY{ramazanW}{1012} \HL{1012}{1417}{1447} \cuS{seyyid85}{1012}
\cuS{halil28}{632}
\cdS{halil28}{2}{757} \cdY{halilW}{757} \HL{757}{1566}{1602} \cuS{ali44}{757}
\cdS{ali44}{2}{827} \cdS{gulseren46}{2}{827} \HL{827}{1577}{1702} \cuY{bxRahmi}{827} \cuS{ilhan67}{827} \cuS{korhan}{827}
\cdY{bxRahmi}{902} \cdS{leyla}{1}{902} \HL{902}{1587}{1627} \cuS{sevgi}{902}
% Mustafa 1902
\cuB{mustafa02}{632}
\cdB{mustafa02}{2}{742} \cdB{guldane}{1}{742} \HL{742}{1737}{2097}
\cuS{mehmet40}{742} \cuY{dursun}{742} \cuS{ali25}{742}
\cdS{mehmet40}{2}{812} \cdS{fatma39}{1}{812} \HL{812}{1737}{1777}
\cdS{dursun}{2}{792} \cdY{dursunW}{792} \HL{792}{1822}{1862} \cuS{mustafa54}{792}
\cdS{mustafa54}{2}{852} \cdY{mustafa54W}{852} \HL{852}{1747}{1859} \cuS{dursun78}{852} \cuS{semra}{852} \cuS{ferhat}{852} \cuS{kubra}{852}
\cdS{ali25}{2}{822} \cdS{serife25}{2}{822} \HL{822}{1893}{2091}
\cuS{hasan54}{822} \cuS{mustafa50}{822} \cuS{alime55}{822} \cuY{bxHuseyin60}{822}
\cdS{hasan54}{2}{937} \cdS{hava}{2}{937} \HL{937}{1792}{1937} \cuS{aliye}{937} \cuS{ali79}{937} \cuY{bxYasin83}{937}
\cdY{bxYasin83}{1007} \cdS{ikbal}{1}{1007} \HL{1007}{1872}{1952} \cuS{almina}{1007} \cuS{elifN}{1007} \cuS{asya}{1007}
\cdS{mustafa50}{2}{887} \cdS{alime55}{2}{887} \HL{887}{1972}{2016} \cuY{bxMehmet73}{887} \cuS{yasar}{887}
\cdY{bxHuseyin60}{897} \cdS{cemileH}{1}{897} \HL{897}{2057}{2132} \cuS{melda}{897} \cuS{mustafa95}{897}
\cdS{melda}{3}{967} \cdS{erolM}{1}{967} \HL{967}{2057}{2091} \cuS{nergiz}{967}
% right side
\cdB{ahmetP}{1}{317} \cdB{hanife}{1}{317} \HL{317}{2257}{2357} \cuB{hasanB}{317}
\cdB{mustafaP}{1}{422} \cdB{cennet}{1}{422} \HL{422}{2182}{2242} \cuB{ahmetS}{422}
\cdB{hasanB}{1}{427} \cdY{wifeB}{427} \HL{427}{2307}{2387} \cuB{ayseS}{427}
\cdB{ahmetS}{2}{527} \cdB{ayseS}{2}{527} \HL{527}{2212}{2342} \cuB{meryemH}{527}
\cuY{bxHasanH}{437} \cdY{bxHasanH}{622} \cdB{meryemH}{1}{622} \HL{622}{2158}{2753}
\draw[vl] (adem |- 0,622) -- (adem |- 0,648);
\draw[vl] (adem |- 0,736) -- (adem |- 0,752);
\cdB{fatmaA}{3}{752} \HL{752}{2198}{2548}
\cuB{meryemA}{752} \cuY{ramazanA}{752} \cuB{halil44}{752}
\cdB{durali}{2}{882} \cdB{meryemA}{3}{882} \HL{882}{2197}{2272} \cuY{bxYasinA}{882} \cuY{yusufA}{882}
\cdB{ramazanA}{2}{852} \cdB{serifeA}{1}{827} \HL{827}{2378}{2431}
\HL{852}{2317}{2527} \cuY{ademR}{852} \cuY{yasemin}{852} \cuY{cennetR}{852} \cuY{filiz}{852} \cuB{ibrahimR}{852}
\cdB{ibrahimR}{2}{1017} \cdB{fatmaR}{2}{1017} \HL{1017}{2362}{2427} \cuB{merveR}{1017} \cuB{ahmetR}{1017}
\cdB{halil44}{2}{837} \cdB{necati}{2}{837} \HL{837}{2547}{2607} \cuY{mehmetN}{837}
\cuB{halil29}{622}
\cdB{huseyinS}{1}{652} \cdB{serifeS}{1}{652} \HL{652}{2792}{2847} \cuY{ayseH}{652}
\cdB{halil29}{2}{732} \cdB{ayseH}{1}{732} \HL{732}{2700}{2872} \cuB{kemal}{732} \cuY{bxHuseyin59}{732}
\cdB{kemal}{2}{837} \cdB{hatice}{2}{837} \HL{837}{2700}{2757} \cuB{aydin79}{837}
\cdY{bxHuseyin59}{827} \cdB{ayseA}{2}{827} \HL{827}{2842}{2962} \cuB{halil79}{827} \cuB{kadriye}{827} \cuB{zafer}{827}
\cdB{aydin79}{2}{942} \cdB{sema}{2}{942} \HL{942}{2700}{2818} \cuB{mehmetAli}{942} \cuB{arda}{942} \cuB{yusufY}{942}
\end{tikzpicture}
\end{document}
